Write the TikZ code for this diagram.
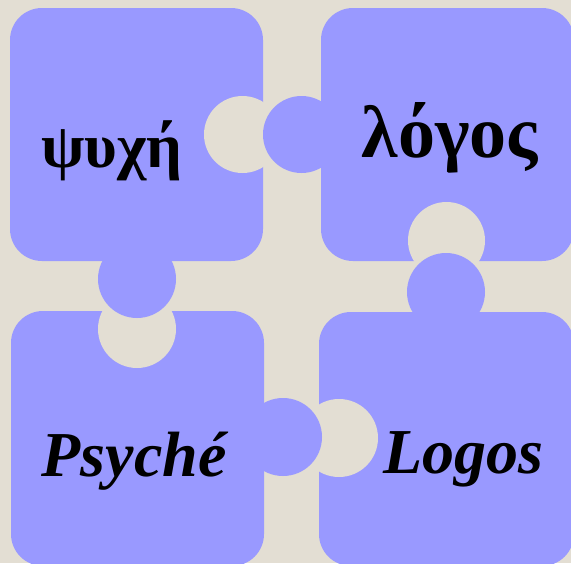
\documentclass[tikz,border=0pt]{standalone}
\usepackage{fontspec}
\setmainfont{Liberation Serif}
\definecolor{piececol}{HTML}{9999FF}
\definecolor{tablecol}{HTML}{E3DED3}
\tikzset{
  piece/.style={fill=piececol, rounded corners=32pt},
  word/.style={anchor=base, inner sep=0pt, font=\fontsize{63}{72}\selectfont\bfseries},
  latin/.style={word, font=\fontsize{64}{72}\selectfont\bfseries\itshape}
}
\begin{document}
\begin{tikzpicture}[x=1pt,y=-1pt]
\fill[tablecol] (0,0) rectangle (571,563);
\useasboundingbox (0,0) rectangle (571,563);
% the four pieces
\fill[piece] (10,8) rectangle (263,261);
\fill[piece] (321,8) rectangle (574,261);
\fill[piece] (11,311) rectangle (264,566);
\fill[piece] (319,312) rectangle (574,566);
% holes
\fill[tablecol] (242.5,134.5) circle (38.5);
\fill[tablecol] (137,329) circle (39);
\fill[tablecol] (446.5,240.5) circle (38.5);
\fill[tablecol] (339,438) circle (39);
% tabs
\fill[piececol] (301.5,134.5) circle (38.5);
\fill[piececol] (137,279) circle (39);
\fill[piececol] (446,292) circle (39);
\fill[piececol] (283,437) circle (39);
% words
\node[word] (psi) at (112,167) {ψυχή};
\node[word, font=\fontsize{74}{80}\selectfont\bfseries] (logr) at (450,157) {λόγος};
\node[latin] (psy) at (134,476) {Psyché};
\node[latin] (log) at (463,473) {Logos};
\end{tikzpicture}
\end{document}
